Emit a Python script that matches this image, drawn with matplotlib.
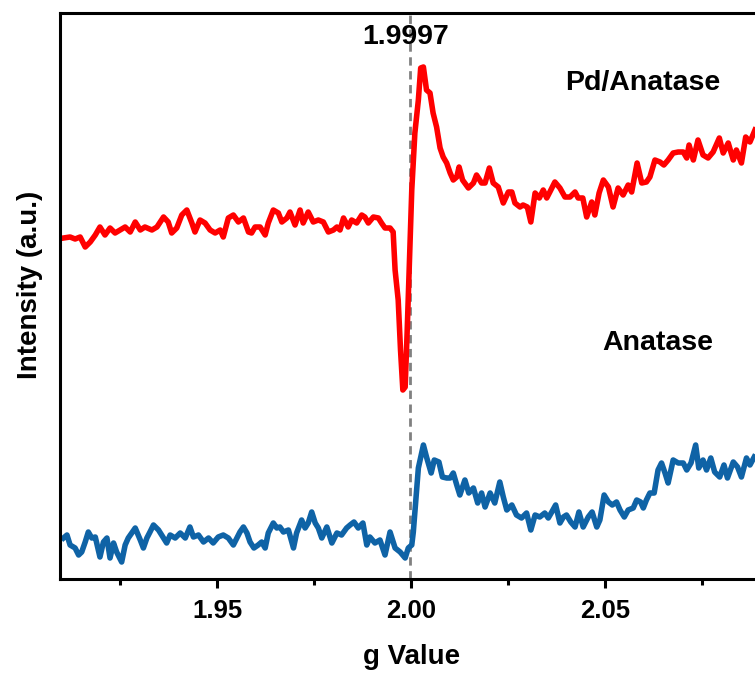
import numpy as np
import matplotlib
matplotlib.use("Agg")
import matplotlib.pyplot as plt
from matplotlib.ticker import MultipleLocator

plt.rcParams["font.family"] = ["Liberation Sans", "DejaVu Sans"]
plt.rcParams["font.weight"] = "bold"

# EPR spectra, g value vs intensity (arbitrary units)
g_pd = [1.9104, 1.9121, 1.9134, 1.9147, 1.9160, 1.9173, 1.9186, 1.9198, 1.9211, 1.9224,
        1.9237, 1.9250, 1.9263, 1.9276, 1.9289, 1.9302, 1.9314, 1.9332, 1.9345, 1.9362,
        1.9374, 1.9383, 1.9396, 1.9409, 1.9422, 1.9435, 1.9443, 1.9456, 1.9469, 1.9482,
        1.9495, 1.9508, 1.9516, 1.9529, 1.9542, 1.9555, 1.9568, 1.9581, 1.9589, 1.9598,
        1.9611, 1.9624, 1.9632, 1.9645, 1.9658, 1.9667, 1.9680, 1.9688, 1.9701, 1.9714,
        1.9722, 1.9735, 1.9748, 1.9761, 1.9774, 1.9787, 1.9800, 1.9809, 1.9817, 1.9826,
        1.9838, 1.9847, 1.9860, 1.9873, 1.9881, 1.9890, 1.9903, 1.9916, 1.9924, 1.9933,
        1.9946, 1.9954, 1.9959, 1.9967, 1.9973, 1.9979, 1.9985, 1.9990, 1.9997, 2.0002,
        2.0010, 2.0019, 2.0025, 2.0032, 2.0040, 2.0049, 2.0057, 2.0066, 2.0075, 2.0083,
        2.0092, 2.0101, 2.0109, 2.0118, 2.0124, 2.0133, 2.0148, 2.0161, 2.0169, 2.0182,
        2.0191, 2.0202, 2.0212, 2.0225, 2.0238, 2.0251, 2.0260, 2.0268, 2.0281, 2.0289,
        2.0300, 2.0309, 2.0320, 2.0331, 2.0341, 2.0350, 2.0358, 2.0371, 2.0384, 2.0397,
        2.0410, 2.0423, 2.0431, 2.0443, 2.0453, 2.0466, 2.0474, 2.0485, 2.0496, 2.0509,
        2.0521, 2.0534, 2.0547, 2.0560, 2.0569, 2.0583, 2.0595, 2.0607, 2.0616, 2.0629,
        2.0642, 2.0652, 2.0663, 2.0676, 2.0689, 2.0702, 2.0711, 2.0717, 2.0728, 2.0740,
        2.0753, 2.0766, 2.0779, 2.0795, 2.0805, 2.0818, 2.0831, 2.0839, 2.0852, 2.0863,
        2.0874, 2.0887]
int_pd = [341, 342, 340, 342, 332, 337, 344, 352, 344, 351,
          346, 349, 352, 347, 357, 349, 352, 349, 352, 362,
          357, 346, 351, 364, 369, 356, 347, 359, 356, 349,
          346, 349, 342, 361, 364, 357, 361, 347, 346, 352,
          352, 344, 356, 369, 366, 357, 361, 367, 354, 369,
          356, 367, 357, 359, 357, 347, 349, 352, 349, 361,
          352, 359, 356, 364, 362, 356, 362, 361, 356, 351,
          351, 347, 309, 279, 229, 189, 192, 246, 329, 389,
          446, 479, 511, 512, 489, 486, 466, 452, 431, 422,
          416, 406, 399, 402, 412, 399, 391, 396, 404, 396,
          396, 411, 396, 392, 376, 387, 387, 376, 372, 374,
          372, 357, 386, 381, 389, 381, 387, 397, 391, 382,
          382, 387, 381, 381, 362, 377, 364, 386, 399, 392,
          372, 391, 384, 394, 387, 416, 396, 397, 402, 419,
          417, 414, 419, 426, 427, 427, 421, 434, 419, 439,
          424, 421, 427, 441, 426, 436, 419, 429, 416, 442,
          437, 449]

g_anatase = [1.9104, 1.9113, 1.9121, 1.9134, 1.9143, 1.9151, 1.9160, 1.9168, 1.9177, 1.9186,
             1.9198, 1.9207, 1.9216, 1.9224, 1.9233, 1.9241, 1.9254, 1.9263, 1.9271, 1.9289,
             1.9302, 1.9310, 1.9319, 1.9327, 1.9336, 1.9349, 1.9362, 1.9370, 1.9379, 1.9392,
             1.9405, 1.9418, 1.9430, 1.9439, 1.9452, 1.9465, 1.9478, 1.9490, 1.9503, 1.9516,
             1.9529, 1.9542, 1.9559, 1.9568, 1.9577, 1.9585, 1.9595, 1.9606, 1.9615, 1.9624,
             1.9632, 1.9645, 1.9654, 1.9662, 1.9671, 1.9684, 1.9697, 1.9705, 1.9718, 1.9727,
             1.9735, 1.9744, 1.9753, 1.9761, 1.9770, 1.9783, 1.9796, 1.9809, 1.9821, 1.9834,
             1.9843, 1.9853, 1.9864, 1.9876, 1.9886, 1.9894, 1.9907, 1.9920, 1.9933, 1.9946,
             1.9959, 1.9972, 1.9985, 1.9993, 2.0002, 2.0006, 2.0019, 2.0032, 2.0040, 2.0052,
             2.0060, 2.0072, 2.0081, 2.0092, 2.0101, 2.0109, 2.0118, 2.0126, 2.0139, 2.0149,
             2.0161, 2.0172, 2.0182, 2.0191, 2.0204, 2.0216, 2.0229, 2.0238, 2.0247, 2.0260,
             2.0272, 2.0285, 2.0298, 2.0309, 2.0320, 2.0332, 2.0345, 2.0354, 2.0363, 2.0373,
             2.0384, 2.0393, 2.0401, 2.0412, 2.0423, 2.0433, 2.0444, 2.0457, 2.0467, 2.0479,
             2.0487, 2.0498, 2.0509, 2.0519, 2.0530, 2.0539, 2.0550, 2.0560, 2.0573, 2.0582,
             2.0592, 2.0599, 2.0607, 2.0616, 2.0627, 2.0637, 2.0646, 2.0655, 2.0663, 2.0676,
             2.0689, 2.0702, 2.0711, 2.0722, 2.0734, 2.0742, 2.0753, 2.0762, 2.0773, 2.0783,
             2.0796, 2.0807, 2.0816, 2.0831, 2.0842, 2.0852, 2.0865, 2.0874, 2.0885]
int_anatase = [41, 44, 34, 31, 24, 27, 37, 47, 41, 42,
               22, 37, 41, 21, 36, 27, 17, 34, 41, 51,
               39, 31, 41, 47, 54, 49, 41, 36, 44, 41,
               46, 41, 52, 42, 44, 37, 41, 36, 42, 44,
               41, 34, 47, 52, 46, 37, 31, 34, 37, 31,
               46, 56, 51, 52, 47, 49, 31, 46, 59, 51,
               56, 67, 56, 51, 41, 52, 36, 46, 44, 51,
               54, 57, 51, 56, 34, 42, 36, 39, 24, 47,
               31, 27, 21, 31, 34, 47, 111, 134, 122, 106,
               119, 117, 102, 101, 101, 106, 94, 84, 99, 86,
               91, 76, 86, 72, 86, 76, 97, 82, 69, 74,
               64, 61, 66, 49, 64, 62, 66, 61, 67, 74,
               56, 62, 64, 57, 52, 67, 52, 62, 67, 52,
               59, 84, 77, 74, 77, 69, 62, 69, 71, 79,
               77, 71, 79, 86, 86, 109, 116, 106, 96, 119,
               116, 116, 109, 116, 134, 111, 119, 109, 121, 107,
               102, 114, 101, 117, 112, 102, 121, 114, 122]

g_center = 1.9997
xticks = [1.95, 2.00, 2.05]
xtick_labels = ["1.95", "2.00", "2.05"]

W, H = 755, 673
fig = plt.figure(figsize=(W / 100, H / 100), dpi=100)
fig.patch.set_facecolor("white")
ax = fig.add_axes([60 / W, 1 - 579 / H, 1 - 60 / W, (579 - 13) / H])

ax.plot(g_pd, int_pd, color="#ff0000", lw=4.0, solid_joinstyle="round")
ax.plot(g_anatase, int_anatase, color="#0f63a6", lw=4.0, solid_joinstyle="round")
ax.axvline(g_center, color="#808080", lw=2.0, ls=(0, (3, 2)), zorder=0)

ax.set_xlim(1.9095, 2.0887)
ax.set_ylim(0, 566)

ax.text(1.9985, 542, f"{g_center:.4f}", ha="center", va="center", fontsize=20.5, fontweight="bold")
ax.text(2.0598, 496, "Pd/Anatase", ha="center", va="center", fontsize=20.5, fontweight="bold")
ax.text(2.0637, 236, "Anatase", ha="center", va="center", fontsize=20.5, fontweight="bold")

for side in ["left", "bottom", "top"]:
    ax.spines[side].set_linewidth(2.2)
ax.spines["right"].set_visible(False)

ax.set_xticks(xticks)
ax.set_xticklabels(xtick_labels)
ax.xaxis.set_minor_locator(MultipleLocator(0.025))
ax.tick_params(axis="x", which="major", direction="out", length=6.5, width=2.2,
               labelsize=18.5, pad=8)
ax.tick_params(axis="x", which="minor", direction="out", length=4.5, width=2.2)
ax.set_yticks([])

fig.text(412 / W, 1 - 657 / H, "g Value", ha="center", va="center", fontsize=20, fontweight="bold")
fig.text(30 / W, 1 - 285 / H, "Intensity (a.u.)", ha="center", va="center", rotation=90,
         fontsize=20, fontweight="bold")

fig.savefig("out.png", dpi=100)
